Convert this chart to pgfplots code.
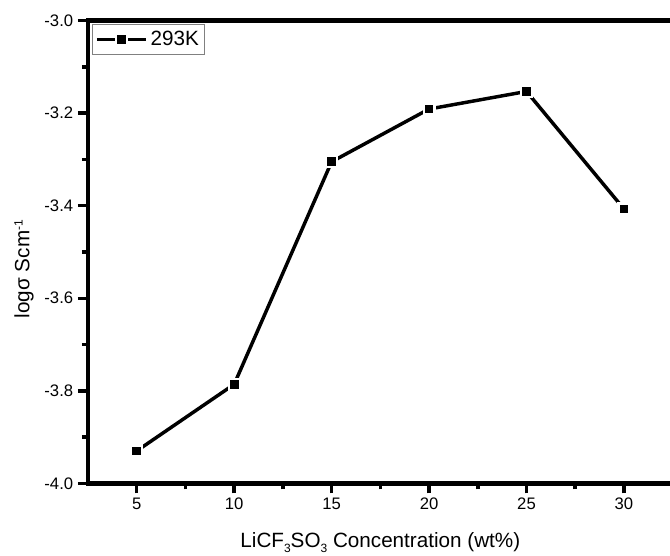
\documentclass[border=0pt]{standalone}
\usepackage{pgfplots}
\pgfplotsset{compat=1.18}
\usepackage{fontspec}
\setmainfont{Liberation Sans}
\begin{document}
\begin{tikzpicture}
\begin{axis}[
  name=ax, scale only axis, width=438.5pt, height=347pt,
  xmin=2.5, xmax=32.5, ymin=-4, ymax=-3,
  xtick={5,10,15,20,25,30}, minor x tick num=1,
  ytick={-4,-3.8,-3.6,-3.4,-3.2,-3.0},
  yticklabels={-4.0,-3.8,-3.6,-3.4,-3.2,-3.0},
  minor y tick num=1,
  tick pos=left, tick align=outside,
  separate axis lines,
  axis line style={line width=3.6pt, black, line cap=rect},
  major tick length=7.6pt, minor tick length=4.6pt,
  tick style={line width=2.6pt, black},
  tick label style={font=\fontsize{12.5}{13}\selectfont},
  /pgf/number format/assume math mode=true,
  every axis x label/.style={at={(rel axis cs:0.5,0)}, anchor=base, yshift=-47.8pt},
  every axis y label/.style={at={([xshift=-48pt]rel axis cs:0,0.463)}, rotate=90, anchor=center},
  label style={font=\fontsize{15.5}{15.5}\selectfont},
  xlabel={LiCF\raisebox{-4pt}{\fontsize{9}{9}\selectfont 3}SO\raisebox{-4pt}{\fontsize{9}{9}\selectfont 3} Concentration (wt\%)},
  ylabel={logσ Scm\raisebox{5pt}{\fontsize{9}{9}\selectfont -1}},
  legend style={at={(rel axis cs:0,1)}, anchor=north west, xshift=3pt, yshift=-2.5pt,
    draw=gray, line width=0.6pt, font=\fontsize{15.5}{15.5}\selectfont,
    inner xsep=2pt, inner ysep=3pt},
  legend image code/.code={\draw[mark repeat=2,mark phase=2,#1] plot coordinates {(0pt,0pt) (18.5pt,0pt) (37pt,0pt)};},
]
\addplot[black, line width=2.6pt, mark=square*, mark size=4.1pt,
  mark options={solid, draw=white, fill=black, line width=1.6pt}] coordinates {
  (5,-3.930) (10,-3.786) (15,-3.305) (20,-3.191) (25,-3.153) (30,-3.407)
};
\addlegendentry{293K}
\end{axis}
\pgfresetboundingbox
\path[use as bounding box] ([xshift=-66pt,yshift=-53.8pt]ax.south west) rectangle ([xshift=436.5pt,yshift=15.5pt]ax.north west);
\end{tikzpicture}
\end{document}
